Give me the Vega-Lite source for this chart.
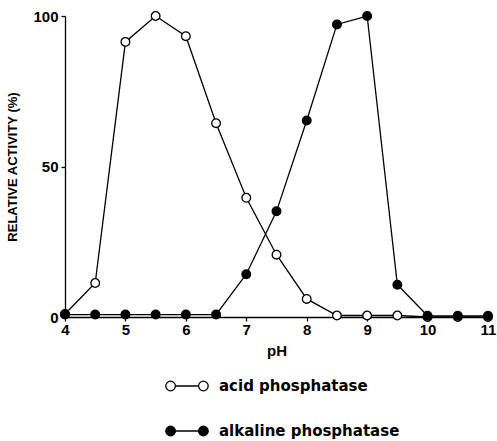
{
  "$schema": "https://vega.github.io/schema/vega-lite/v6.json",
  "width": 423,
  "height": 301,
  "autosize": {"type": "none"},
  "padding": {"left": 65, "top": 16, "right": 9, "bottom": 124},
  "background": "white",
  "config": {
    "view": {"stroke": null},
    "font": "Liberation Sans",
    "axis": {"grid": false, "domainColor": "black", "tickColor": "black", "labelColor": "black", "titleColor": "black", "labelFont": "Liberation Sans", "titleFont": "Liberation Sans", "labelFontWeight": "bold", "titleFontWeight": "bold", "domainWidth": 1.3, "tickWidth": 1.3}
  },
  "data": {
    "values": [
      {"pH": 4, "activity": 1, "enzyme": "acid phosphatase"},
      {"pH": 4.5, "activity": 11.3, "enzyme": "acid phosphatase"},
      {"pH": 5, "activity": 91.4, "enzyme": "acid phosphatase"},
      {"pH": 5.5, "activity": 100, "enzyme": "acid phosphatase"},
      {"pH": 6, "activity": 93.3, "enzyme": "acid phosphatase"},
      {"pH": 6.5, "activity": 64.4, "enzyme": "acid phosphatase"},
      {"pH": 7, "activity": 39.6, "enzyme": "acid phosphatase"},
      {"pH": 7.5, "activity": 20.7, "enzyme": "acid phosphatase"},
      {"pH": 8, "activity": 6, "enzyme": "acid phosphatase"},
      {"pH": 8.5, "activity": 0.5, "enzyme": "acid phosphatase"},
      {"pH": 9, "activity": 0.5, "enzyme": "acid phosphatase"},
      {"pH": 9.5, "activity": 0.5, "enzyme": "acid phosphatase"},
      {"pH": 10, "activity": 0, "enzyme": "acid phosphatase"},
      {"pH": 10.5, "activity": 0, "enzyme": "acid phosphatase"},
      {"pH": 11, "activity": 0, "enzyme": "acid phosphatase"},
      {"pH": 4, "activity": 0.8, "enzyme": "alkaline phosphatase"},
      {"pH": 4.5, "activity": 0.8, "enzyme": "alkaline phosphatase"},
      {"pH": 5, "activity": 0.8, "enzyme": "alkaline phosphatase"},
      {"pH": 5.5, "activity": 0.8, "enzyme": "alkaline phosphatase"},
      {"pH": 6, "activity": 0.8, "enzyme": "alkaline phosphatase"},
      {"pH": 6.5, "activity": 0.8, "enzyme": "alkaline phosphatase"},
      {"pH": 7, "activity": 14.2, "enzyme": "alkaline phosphatase"},
      {"pH": 7.5, "activity": 35.1, "enzyme": "alkaline phosphatase"},
      {"pH": 8, "activity": 65.3, "enzyme": "alkaline phosphatase"},
      {"pH": 8.5, "activity": 97.2, "enzyme": "alkaline phosphatase"},
      {"pH": 9, "activity": 100, "enzyme": "alkaline phosphatase"},
      {"pH": 9.5, "activity": 10.7, "enzyme": "alkaline phosphatase"},
      {"pH": 10, "activity": 0.4, "enzyme": "alkaline phosphatase"},
      {"pH": 10.5, "activity": 0.4, "enzyme": "alkaline phosphatase"},
      {"pH": 11, "activity": 0.4, "enzyme": "alkaline phosphatase"}
    ]
  },
  "encoding": {
    "x": {"field": "pH", "type": "quantitative", "scale": {"domain": [4, 11], "nice": false, "zero": false}, "axis": {"values": [4,5,6,7,8,9,10,11], "title": "pH", "labelFlush": false, "labelFontSize": 15, "titleFontSize": 15, "tickSize": 4, "labelPadding": 1, "titlePadding": 6}},
    "y": {"field": "activity", "type": "quantitative", "scale": {"domain": [0, 100], "nice": false}, "axis": {"values": [0, 50, 100], "title": "RELATIVE ACTIVITY (%)", "labelFontSize": 15, "titleFontSize": 13, "tickSize": 4, "labelPadding": 3, "titlePadding": 13}}
  },
  "layer": [
    {
      "mark": {"type": "line", "color": "black", "strokeWidth": 1.3},
      "encoding": {"detail": {"field": "enzyme"}}
    },
    {
      "mark": {"type": "point", "filled": false, "stroke": "black", "strokeWidth": 1.3, "size": 75, "opacity": 1},
      "encoding": {
        "fill": {"field": "enzyme", "type": "nominal", "scale": {"domain": ["acid phosphatase", "alkaline phosphatase"], "range": ["white", "black"]},
          "legend": {"title": null, "orient": "none", "legendX": 113, "legendY": 361, "direction": "vertical",
            "symbolType": "M-1.45,0 A0.6,0.6 0 1,1 -2.65,0 A0.6,0.6 0 1,1 -1.45,0 Z M-1.45,0 L1.45,0 M2.65,0 A0.6,0.6 0 1,1 1.45,0 A0.6,0.6 0 1,1 2.65,0 Z",
            "symbolSize": 256, "symbolStrokeColor": "black", "symbolStrokeWidth": 1.3, "symbolOpacity": 1,
            "labelFontSize": 15, "labelFontWeight": "bold", "labelColor": "black", "labelFont": "DejaVu Sans", "labelOffset": 23, "rowPadding": 28, "labelLimit": 300}}
      }
    }
  ]
}
